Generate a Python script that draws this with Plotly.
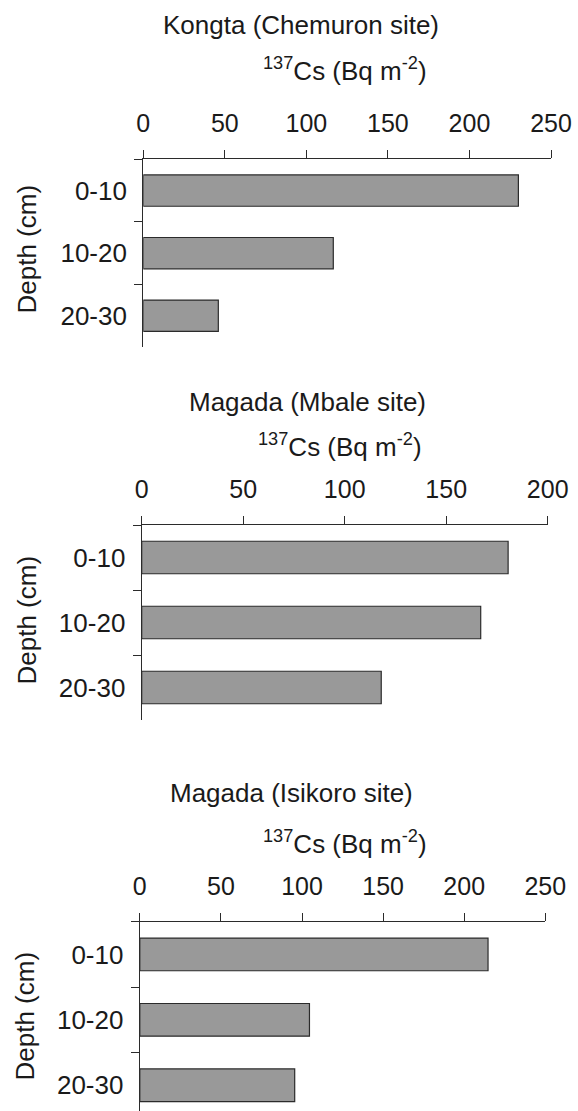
import plotly.graph_objects as go

W, H = 578, 1111

depths = ["0-10", "10-20", "20-30"]
titles = ["Kongta (Chemuron site)", "Magada (Mbale site)", "Magada (Isikoro site)"]
kongta_chemuron = [230, 116.5, 46]
magada_mbale = [180.5, 167, 118]
magada_isikoro = [214.7, 104.6, 95.5]
x_max = [250, 200, 250]
x_ticks = [0, 50, 100, 150, 200, 250]
series = [kongta_chemuron, magada_mbale, magada_isikoro]

# layout geometry in pixels
panels = [
    dict(x0=143.3, x1=551.0, yt=159.3, yb=347.0, rb=2.5,
         tx=300.8, ty=35.0, ax=345.0, ay=81.5, dx=26.5, dy=249),
    dict(x0=141.7, x1=547.7, yt=525.0, yb=720.0, rb=2.5,
         tx=308.0, ty=412.0, ax=339.5, ay=458.0, dx=26.5, dy=620),
    dict(x0=139.8, x1=545.3, yt=921.7, yb=1111.0, rb=2.5 - (1118 - 1111) / 65.5,
         tx=291.0, ty=803.3, ax=345.0, ay=854.0, dx=24.5, dy=1016),
]

FONT = "Liberation Sans, Arial, Helvetica, sans-serif"
INK = "#1a1a1a"
LINE = "#2b2b2b"
DESC = 6.5  # approx descent below baseline for bottom-anchored text

fig = go.Figure()
annotations = []
for i, (vals, p) in enumerate(zip(series, panels)):
    n = "" if i == 0 else str(i + 1)
    fig.add_trace(go.Bar(
        x=vals, y=depths, orientation="h", width=0.5,
        marker=dict(color="#999999", line=dict(color="#2b2b2b", width=1.2)),
        xaxis="x" + n, yaxis="y" + n, showlegend=False, hoverinfo="skip",
    ))
    xd = [p["x0"] / W, p["x1"] / W]
    yd = [max(0.0, 1 - p["yb"] / H), 1 - p["yt"] / H]
    fig.layout["xaxis" + n] = dict(
        domain=xd, anchor="y" + n, side="top", range=[0, x_max[i]],
        tickvals=[t for t in x_ticks if t <= x_max[i]], automargin=False,
        showline=True, linecolor=LINE, linewidth=1.3,
        ticks="outside", ticklen=8, tickwidth=1.3, tickcolor=LINE,
        ticklabelstandoff=8,
        showgrid=False, zeroline=False,
        tickfont=dict(family=FONT, size=25, color=INK),
    )
    fig.layout["yaxis" + n] = dict(
        domain=yd, anchor="x" + n, type="category", automargin=False,
        categoryorder="array", categoryarray=depths,
        range=[p["rb"], -0.5], tickson="boundaries",
        showline=True, linecolor=LINE, linewidth=1.3,
        ticks="outside", ticklen=8, tickwidth=1.3, tickcolor=LINE,
        ticklabelstandoff=10,
        showgrid=False, zeroline=False,
        tickfont=dict(family=FONT, size=26, color=INK),
    )
    annotations.append(dict(
        text=titles[i], x=p["tx"] / W, y=1 - (p["ty"] + DESC) / H, xref="paper", yref="paper",
        xanchor="center", yanchor="bottom", showarrow=False,
        font=dict(family=FONT, size=26, color=INK),
    ))
    annotations.append(dict(
        text="<sup>137</sup>Cs (Bq m<sup>-2</sup>)", x=p["ax"] / W, y=1 - (p["ay"] + DESC) / H,
        xref="paper", yref="paper", xanchor="center", yanchor="bottom", showarrow=False,
        font=dict(family=FONT, size=26, color=INK),
    ))
    annotations.append(dict(
        text="Depth (cm)", x=p["dx"] / W, y=1 - p["dy"] / H, xref="paper", yref="paper",
        xanchor="center", yanchor="middle", textangle=-90, showarrow=False,
        font=dict(family=FONT, size=26, color=INK),
    ))

fig.update_layout(
    width=W, height=H, autosize=False,
    margin=dict(l=0, r=0, t=0, b=0, pad=0),
    paper_bgcolor="white", plot_bgcolor="white",
    bargap=0.5, annotations=annotations,
)
fig.write_html("out.html")
